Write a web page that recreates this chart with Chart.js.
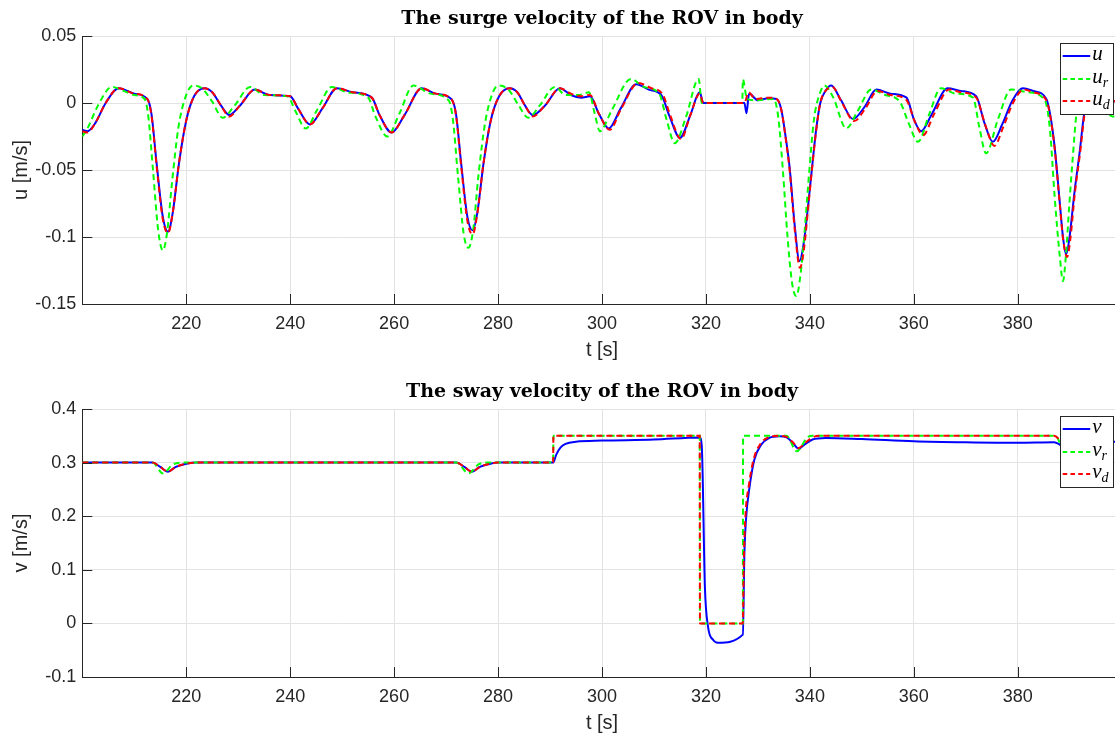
<!DOCTYPE html>
<html>
<head>
<meta charset="utf-8">
<title>ROV body velocities</title>
<script src="https://cdn.jsdelivr.net/npm/chart.js@4.4.1/dist/chart.umd.min.js"></script>
<style>
  html, body { margin: 0; padding: 0; background: #fff; overflow: hidden; width: 1115px; height: 734px; }
  .panel { position: absolute; left: 0; }
  #surge-wrap { top: 0; }
  #sway-wrap { top: 373px; }
</style>
</head>
<body>
<div class="panel" id="surge-wrap"><canvas id="surge-chart" width="1140" height="367"></canvas></div>
<div class="panel" id="sway-wrap"><canvas id="sway-chart" width="1140" height="367"></canvas></div>
<script>
// Axis ranges and tick labels
const xMin = 200;
const xMax = 400;
const xTickValues = [220, 240, 260, 280, 300, 320, 340, 360, 380];
const surgeTicks = [-0.15, -0.1, -0.05, 0, 0.05];
const swayTicks = [-0.1, 0, 0.1, 0.2, 0.3, 0.4];

// Surge velocity u (measured), u_r (reference), u_d (desired)
const uT = [200, 201, 202.5, 204.5, 207, 210, 212.5, 213.3, 214.3, 215.5, 216.5, 217.4, 218.6, 220, 221.5, 223.5, 225, 226.7, 228.3, 230.3, 233.2, 236, 240, 241.5, 243.8, 246.2, 249, 252, 255.7, 257.2, 259.5, 262, 265.3, 268, 271, 271.9, 272.9, 274.1, 275.1, 276, 277.2, 278.6, 280.2, 282.2, 283.7, 285.2, 286.7, 289, 291.9, 294, 296, 297.7, 299.4, 301.3, 303.6, 306.6, 309, 311.4, 313, 315, 317, 318.8, 319.5, 327.4, 327.8, 328.3, 330, 332, 333.6, 334.5, 335.4, 336.1, 337.1, 338, 338.8, 339.7, 340.5, 341.2, 342, 343, 344.1, 346, 348.3, 350.5, 352.8, 355.5, 358.6, 360, 361.4, 363.5, 366.5, 369, 372, 373.6, 375.2, 377, 379, 381, 383, 385.5, 386.3, 387.1, 388.1, 388.7, 389.3, 389.9, 390.9, 391.9, 392.9, 394.5, 397, 400];
const uVals = [-0.020, -0.021, -0.015, 0.000, 0.011, 0.007, 0.003, -0.008, -0.045, -0.085, -0.096, -0.082, -0.045, -0.013, 0.005, 0.011, 0.008, -0.002, -0.009, -0.002, 0.010, 0.006, 0.005, -0.004, -0.016, -0.004, 0.011, 0.008, 0.004, -0.009, -0.022, -0.009, 0.011, 0.007, 0.003, -0.008, -0.045, -0.085, -0.095, -0.082, -0.045, -0.013, 0.005, 0.011, 0.008, -0.002, -0.009, -0.002, 0.011, 0.006, 0.004, 0.005, -0.008, -0.019, -0.004, 0.014, 0.010, 0.006, -0.010, -0.026, -0.009, 0.008, 0.000, 0.000, -0.0076, 0.007, 0.002, 0.0035, 0.003, -0.005, -0.027, -0.048, -0.092, -0.118, -0.105, -0.075, -0.045, -0.020, 0.000, 0.009, 0.013, 0.002, -0.012, -0.003, 0.010, 0.007, 0.004, -0.012, -0.021, -0.008, 0.011, 0.009, 0.005, -0.015, -0.029, -0.016, 0.002, 0.011, 0.009, 0.003, -0.010, -0.033, -0.075, -0.100, -0.113, -0.102, -0.067, -0.037, -0.005, 0.006, 0.003, 0.000];

const urT = [200, 201, 203, 205.7, 208, 210, 212, 212.7, 213.6, 214.6, 215.5, 216.3, 217.3, 218.5, 220, 221.3, 223, 225, 227, 229.3, 232.3, 235, 239.5, 241, 243, 245.2, 248, 251, 255, 256.4, 258.7, 261, 263.7, 267, 270.5, 271.3, 272.3, 273.4, 274.3, 275.2, 276.2, 277.5, 279, 280.1, 282, 284, 285.8, 288, 290.9, 293, 295.5, 297.5, 298.6, 299.6, 301.8, 305.6, 308, 311, 312.4, 314, 316.2, 318.6, 319.2, 327.0, 327.1, 327.9, 329.5, 333, 333.9, 334.8, 335.7, 336.6, 337.4, 338.2, 339, 339.9, 340.8, 342, 342.8, 344.5, 347, 349.2, 351.8, 354.5, 357.3, 359, 360.8, 363, 365.2, 368, 371.4, 372.6, 373.9, 376.2, 378.7, 382, 385.2, 386.2, 387.1, 388.1, 388.7, 389.3, 389.9, 390.5, 391.4, 393, 394.5, 396.5, 398.2, 400];
const urVals = [-0.025, -0.019, -0.002, 0.012, 0.009, 0.006, 0.003, -0.010, -0.050, -0.095, -0.110, -0.097, -0.058, -0.018, 0.006, 0.013, 0.011, 0.001, -0.011, -0.002, 0.012, 0.006, 0.005, -0.006, -0.019, -0.005, 0.012, 0.008, 0.004, -0.010, -0.025, -0.008, 0.013, 0.007, 0.002, -0.012, -0.055, -0.098, -0.108, -0.095, -0.055, -0.015, 0.008, 0.013, 0.010, -0.002, -0.011, -0.002, 0.012, 0.006, 0.006, 0.008, -0.008, -0.021, -0.006, 0.018, 0.012, 0.007, -0.012, -0.030, -0.010, 0.018, 0.000, 0.000, 0.0177, 0.003, 0.002, 0.003, -0.010, -0.050, -0.100, -0.135, -0.144, -0.128, -0.095, -0.050, -0.012, 0.008, 0.013, 0.004, -0.019, -0.006, 0.010, 0.006, 0.001, -0.015, -0.029, -0.008, 0.011, 0.007, 0.004, -0.018, -0.0375, -0.012, 0.010, 0.008, 0.002, -0.020, -0.070, -0.115, -0.133, -0.112, -0.077, -0.045, -0.005, 0.008, 0.009, -0.002, -0.010, -0.008];

const udT = [200, 201, 202.5, 204.5, 207, 210, 212.5, 213.3, 214.3, 215.5, 216.5, 217.4, 218.6, 220, 221.5, 223.5, 225, 226.7, 228.3, 230.3, 233.2, 236, 240, 241.5, 243.8, 246.2, 249, 252, 255.7, 257.2, 259.5, 262, 265.3, 268, 271, 271.9, 272.9, 274.1, 275.1, 276, 277.2, 278.6, 280.2, 282.2, 283.7, 285.2, 286.7, 289, 291.9, 294, 296, 297.7, 299.4, 301.5, 303.6, 307, 309.5, 311.6, 313.2, 315.2, 317, 318.8, 319.5, 327.4, 328.2, 329.5, 332, 333.6, 334.5, 335.4, 336.1, 337.1, 338.1, 338.9, 339.7, 340.5, 341.2, 342, 343, 344.3, 346.2, 348.5, 350.7, 353, 355.5, 358.6, 360.2, 361.8, 363.8, 366.8, 369, 372, 373.8, 375.5, 377.2, 379.2, 381.2, 383, 385.5, 386.3, 387.1, 388.1, 388.7, 389.5, 390.1, 391, 392, 393, 394.5, 397, 400];
const udVals = [-0.021, -0.022, -0.015, 0.000, 0.011, 0.007, 0.003, -0.009, -0.047, -0.087, -0.097, -0.082, -0.045, -0.013, 0.005, 0.011, 0.008, -0.002, -0.010, -0.002, 0.010, 0.006, 0.005, -0.004, -0.016, -0.004, 0.011, 0.008, 0.004, -0.009, -0.022, -0.009, 0.011, 0.007, 0.003, -0.009, -0.047, -0.088, -0.098, -0.083, -0.045, -0.013, 0.005, 0.011, 0.008, -0.002, -0.010, -0.002, 0.011, 0.007, 0.005, 0.006, -0.008, -0.020, -0.005, 0.015, 0.011, 0.007, -0.010, -0.027, -0.009, 0.007, 0.000, 0.000, 0.008, 0.003, 0.004, 0.003, -0.005, -0.028, -0.050, -0.095, -0.123, -0.108, -0.077, -0.046, -0.021, 0.000, 0.009, 0.012, 0.000, -0.0135, -0.004, 0.009, 0.006, 0.002, -0.014, -0.024, -0.009, 0.010, 0.008, 0.004, -0.017, -0.032, -0.018, 0.001, 0.010, 0.008, 0.002, -0.011, -0.034, -0.076, -0.101, -0.115, -0.102, -0.067, -0.037, -0.005, 0.006, 0.003, 0.000];

// Sway velocity v (measured), v_r (reference), v_d (desired)
const vT = [200, 213.5, 215, 216.5, 218, 220, 222, 272, 273.5, 275, 276.5, 278.5, 280, 290.6, 291.2, 292, 293, 295, 300, 310, 318.8, 319.2, 319.8, 320.4, 321.4, 322.3, 327.1, 327.4, 327.7, 328.4, 329.3, 330.6, 332.2, 334.1, 335.5, 336.8, 337.8, 339, 340.5, 343, 350, 360, 370, 380, 387, 388, 389, 391, 394, 400];
const vVals = [0.300, 0.300, 0.292, 0.283, 0.292, 0.298, 0.300, 0.300, 0.292, 0.283, 0.292, 0.298, 0.300, 0.300, 0.315, 0.328, 0.335, 0.339, 0.341, 0.343, 0.347, 0.330, 0.068, -0.006, -0.031, -0.036, -0.021, 0.131, 0.193, 0.255, 0.305, 0.333, 0.346, 0.349, 0.347, 0.336, 0.326, 0.334, 0.343, 0.346, 0.344, 0.340, 0.338, 0.337, 0.338, 0.334, 0.327, 0.331, 0.337, 0.339];

const vrT = [200, 213.5, 215.5, 217.5, 219.5, 272, 274.3, 276.3, 278, 290.6, 290.65, 318.8, 318.85, 327.1, 327.15, 335.5, 337.5, 339.5, 340.5, 387.3, 388.5, 389.8, 391, 400];
const vrVals = [0.300, 0.300, 0.280, 0.297, 0.300, 0.300, 0.280, 0.297, 0.300, 0.300, 0.350, 0.350, 0.000, 0.000, 0.350, 0.350, 0.321, 0.347, 0.350, 0.350, 0.332, 0.347, 0.350, 0.350];

const vdT = [200, 213.5, 215, 216.5, 218, 220, 222, 272, 273.5, 275, 276.5, 278.5, 280, 290.6, 290.65, 318.8, 318.85, 327.1, 327.3, 327.6, 328.3, 329.2, 330.5, 332, 334, 335.5, 336.8, 337.8, 339, 340.5, 342, 387, 388.3, 389.3, 391, 394, 400];
const vdVals = [0.300, 0.300, 0.292, 0.283, 0.292, 0.298, 0.300, 0.300, 0.292, 0.283, 0.292, 0.298, 0.300, 0.300, 0.350, 0.350, 0.000, 0.000, 0.120, 0.200, 0.260, 0.307, 0.335, 0.347, 0.350, 0.348, 0.337, 0.327, 0.336, 0.347, 0.350, 0.350, 0.340, 0.330, 0.336, 0.347, 0.350];

// Legend entries: main symbol + subscript
const surgeLegend = [['u', ''], ['u', 'r'], ['u', 'd']];
const swayLegend = [['v', ''], ['v', 'r'], ['v', 'd']];

const INK = '#262626';
const GRID = '#e3e3e3';

Chart.defaults.font.family = '"Liberation Sans", Arial, sans-serif';
Chart.defaults.color = INK;

function toPoints(ts, vs) {
  return ts.map((t, i) => ({ x: t, y: vs[i] }));
}

function lineSet(label, data, color, dashed, order) {
  return {
    label,
    data,
    borderColor: color,
    backgroundColor: color,
    borderWidth: 2,
    borderDash: dashed ? [6, 4] : [],
    pointRadius: 0,
    fill: false,
    cubicInterpolationMode: 'monotone',
    order
  };
}

// Inward ticks, panel title and boxed legend (MATLAB look)
const panelDecor = {
  id: 'panelDecor',
  afterDraw(chart, args, opts) {
    const { ctx, chartArea } = chart;
    const xs = chart.scales.x;
    const ys = chart.scales.y;

    ctx.save();
    ctx.strokeStyle = INK;
    ctx.lineWidth = 1;
    ctx.beginPath();
    xs.ticks.forEach(t => {
      const px = Math.round(xs.getPixelForValue(t.value)) + 0.5;
      ctx.moveTo(px, chartArea.bottom);
      ctx.lineTo(px, chartArea.bottom - 10);
    });
    ys.ticks.forEach(t => {
      const py = Math.round(ys.getPixelForValue(t.value)) + 0.5;
      ctx.moveTo(chartArea.left, py);
      ctx.lineTo(chartArea.left + 10, py);
    });
    ctx.stroke();

    // title
    ctx.fillStyle = '#000';
    ctx.font = 'bold 19px "DejaVu Serif", serif';
    ctx.textAlign = 'center';
    ctx.textBaseline = 'alphabetic';
    ctx.fillText(opts.title, (chartArea.left + chartArea.right) / 2, 23.5);

    // legend box
    const boxW = 53, boxH = 71;
    const bx = chartArea.right - 8.5 - boxW;
    const by = chartArea.top + 7;
    ctx.fillStyle = '#fff';
    ctx.fillRect(bx, by, boxW, boxH);
    ctx.strokeStyle = INK;
    ctx.strokeRect(Math.round(bx) + 0.5, Math.round(by) + 0.5, boxW, boxH);

    const rows = [13, 36, 58];
    chart.data.datasets.forEach((ds, i) => {
      const ry = by + rows[i];
      ctx.strokeStyle = ds.borderColor;
      ctx.lineWidth = 2;
      ctx.setLineDash(ds.borderDash.length ? [4.5, 3.3] : []);
      ctx.beginPath();
      ctx.moveTo(bx + 2.5, ry);
      ctx.lineTo(bx + 30, ry);
      ctx.stroke();
      ctx.setLineDash([]);

      const [main, sub] = opts.legend[i];
      ctx.fillStyle = '#000';
      ctx.textAlign = 'left';
      ctx.textBaseline = 'alphabetic';
      ctx.font = 'italic 21px "Liberation Serif", serif';
      ctx.fillText(main, bx + 32, ry + 4);
      if (sub) {
        const w = ctx.measureText(main).width;
        ctx.font = 'italic 14px "Liberation Serif", serif';
        ctx.fillText(sub, bx + 32 + w, ry + 8);
      }
    });
    ctx.restore();
  }
};

function buildPanel(canvasId, title, legend, yTicks, yLabel, datasets) {
  return new Chart(document.getElementById(canvasId), {
    type: 'line',
    data: { datasets },
    options: {
      responsive: false,
      animation: false,
      devicePixelRatio: 1,
      layout: { padding: { left: 0, right: 18.3, top: 36, bottom: 0 } },
      scales: {
        x: {
          type: 'linear',
          min: xMin,
          max: xMax,
          afterBuildTicks: axis => { axis.ticks = xTickValues.map(v => ({ value: v })); },
          afterFit: scale => { scale.height = 63; },
          grid: { color: GRID, drawTicks: false },
          border: { color: INK, width: 1 },
          ticks: {
            autoSkip: false,
            maxRotation: 0,
            padding: 9,
            color: INK,
            font: { size: 18 },
            callback: v => String(v)
          },
          title: {
            display: true,
            text: 't [s]',
            color: INK,
            font: { size: 20 },
            padding: { top: 0, bottom: 5 }
          }
        },
        y: {
          type: 'linear',
          min: yTicks[0],
          max: yTicks[yTicks.length - 1],
          afterBuildTicks: axis => { axis.ticks = yTicks.map(v => ({ value: v })); },
          afterFit: scale => { scale.width = 82.3; },
          grid: { color: GRID, drawTicks: false },
          border: { color: INK, width: 1 },
          ticks: {
            autoSkip: false,
            padding: 6,
            color: INK,
            font: { size: 18 },
            callback: v => String(v)
          },
          title: {
            display: true,
            text: yLabel,
            color: INK,
            font: { size: 20 },
            padding: { top: 9.5, bottom: 0 }
          }
        }
      },
      plugins: {
        legend: { display: false },
        tooltip: { enabled: false },
        panelDecor: { title, legend }
      }
    },
    plugins: [panelDecor]
  });
}

buildPanel('surge-chart', 'The surge velocity of the ROV in body', surgeLegend, surgeTicks, 'u [m/s]', [
  lineSet('u', toPoints(uT, uVals), '#0000ff', false, 3),
  lineSet('u_r', toPoints(urT, urVals), '#00ff00', true, 2),
  lineSet('u_d', toPoints(udT, udVals), '#ff0000', true, 1)
]);

buildPanel('sway-chart', 'The sway velocity of the ROV in body', swayLegend, swayTicks, 'v [m/s]', [
  lineSet('v', toPoints(vT, vVals), '#0000ff', false, 3),
  lineSet('v_r', toPoints(vrT, vrVals), '#00ff00', true, 2),
  lineSet('v_d', toPoints(vdT, vdVals), '#ff0000', true, 1)
]);
</script>
</body>
</html>
